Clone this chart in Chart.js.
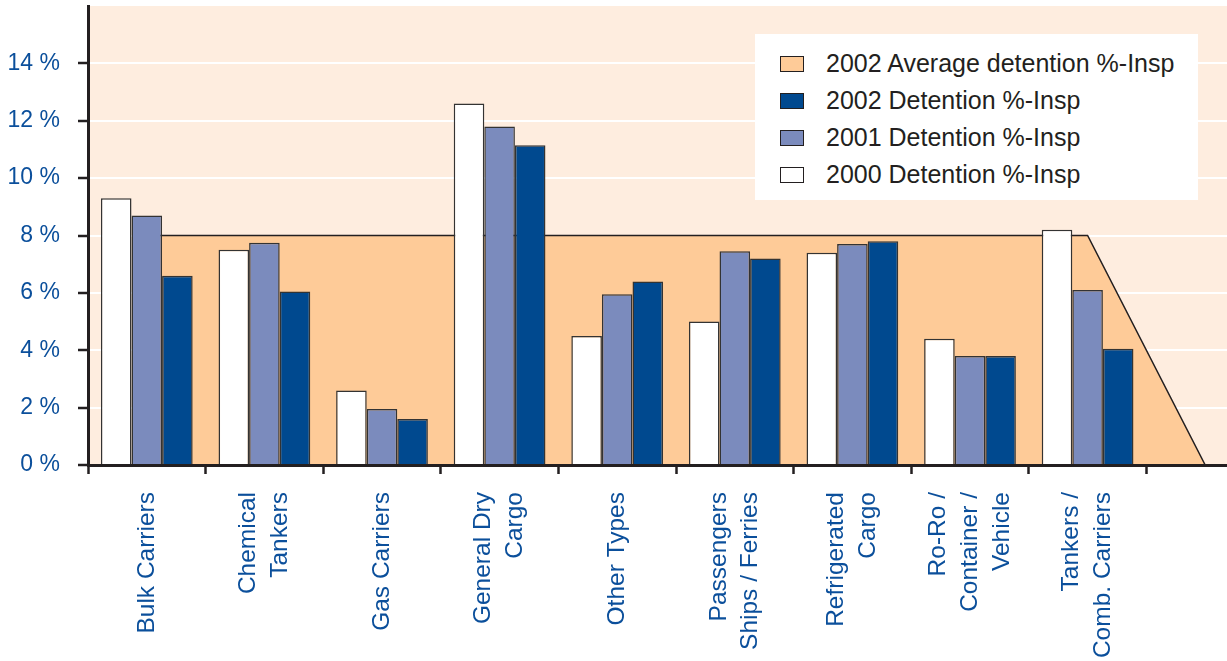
<!DOCTYPE html>
<html>
<head>
<meta charset="utf-8">
<script src="https://cdn.jsdelivr.net/npm/chart.js@4/dist/chart.umd.min.js"></script>
<style>
  html, body { margin: 0; padding: 0; background: #fff; overflow: hidden; }
  #wrap { position: relative; width: 1270px; height: 661px; }
  #legend {
    position: absolute; left: 755px; top: 34px; width: 443px; height: 166px;
    background: #fff; font-family: "Liberation Sans", Arial, sans-serif;
    font-size: 25px; color: #231f20;
  }
  #legend .row { position: absolute; left: 25px; height: 37px; display: flex; align-items: center; }
  #legend .sw { width: 22px; height: 14px; border: 1px solid #231f20; margin-right: 22px; }
</style>
</head>
<body>
<div id="wrap">
  <canvas id="chart" width="1270" height="661"></canvas>
  <div id="legend"></div>
</div>
<script>
// DATA

const categories = [
  "Bulk Carriers",
  ["Chemical", "Tankers"],
  "Gas Carriers",
  ["General Dry", "Cargo"],
  "Other Types",
  ["Passengers", "Ships / Ferries"],
  ["Refrigerated", "Cargo"],
  ["Ro-Ro /", "Container /", "Vehicle"],
  ["Tankers /", "Comb. Carriers"],
  ""
];

const det2000 = [9.3, 7.5, 2.6, 12.6, 4.5, 5.0, 7.4, 4.4, 8.2, null];
const det2001 = [8.7, 7.75, 1.95, 11.8, 5.95, 7.45, 7.7, 3.8, 6.1, null];
const det2002 = [6.6, 6.05, 1.6, 11.15, 6.4, 7.2, 7.8, 3.8, 4.05, null];
const avg2002 = [8, 8, 8, 8, 8, 8, 8, 8, 8, 0];

const yTicks = [0, 2, 4, 6, 8, 10, 12, 14];

// COLOURS

const plotBg = "#feeddf";
const areaColor = "#fecb98";
const ink = "#231f20";
const blueText = "#0b4f9b";
const fontFamily = "'Liberation Sans', Arial, sans-serif";
const xFontSize = 24.5;
const xLineHeight = 1.3;

const plotBackground = {
  id: "plotBackground",
  beforeDraw(chart) {
    const { ctx, chartArea } = chart;
    ctx.save();
    ctx.fillStyle = plotBg;
    ctx.fillRect(chartArea.left, chartArea.top, chartArea.right - chartArea.left, chartArea.bottom - chartArea.top);
    ctx.restore();
  }
};

// multi-line rotated labels: chart.js puts the first line on the tick, centre the block instead
const centerLabels = {
  id: "centerLabels",
  beforeDraw(chart) {
    const lh = xFontSize * xLineHeight;
    chart.scales.x.getLabelItems().forEach(item => {
      if (item._centred) return;
      const n = Array.isArray(item.label) ? item.label.length : 1;
      item.options.translation[0] -= (n - 1) * lh / 2;
      item._centred = true;
    });
  }
};

const barStyle = {
  type: "bar",
  borderColor: "#333333",
  borderWidth: 1.5,
  barPercentage: 1,
  categoryPercentage: 0.78,
  order: 1
};

const datasets = [
  { ...barStyle, label: "2000 Detention %-Insp", data: det2000, backgroundColor: "#ffffff" },
  { ...barStyle, label: "2001 Detention %-Insp", data: det2001, backgroundColor: "#7b8bbd" },
  { ...barStyle, label: "2002 Detention %-Insp", data: det2002, backgroundColor: "#00498f" },
  {
    type: "line",
    label: "2002 Average detention %-Insp",
    data: avg2002,
    fill: "origin",
    backgroundColor: areaColor,
    borderColor: ink,
    borderWidth: 1.5,
    pointRadius: 0,
    tension: 0,
    order: 10
  }
];

const ctx = document.querySelector("#chart").getContext("2d");

const chart = new Chart(ctx, {
  data: { labels: categories, datasets: datasets },
  options: {
    responsive: false,
    animation: false,
    devicePixelRatio: 1,
    layout: { padding: { top: 6, right: 6, left: 0, bottom: 0 } },
    plugins: {
      legend: { display: false },
      tooltip: { enabled: false }
    },
    scales: {
      x: {
        afterFit(scale) {
          scale.height = 196;
          scale.paddingLeft = 0;
          scale.paddingRight = 0;
        },
        grid: { drawOnChartArea: false, drawTicks: true, tickLength: 9, tickColor: ink, tickWidth: 2.5, offset: true },
        border: { color: ink, width: 3, z: 1 },
        ticks: {
          autoSkip: false,
          minRotation: 90,
          maxRotation: 90,
          padding: 18,
          color: blueText,
          font: { family: fontFamily, size: xFontSize, lineHeight: xLineHeight }
        }
      },
      y: {
        min: 0,
        max: 16,
        afterFit(scale) {
          scale.width = 88;
          scale.paddingTop = 0;
          scale.paddingBottom = 0;
        },
        afterBuildTicks(scale) { scale.ticks = yTicks.map(v => ({ value: v })); },
        grid: { color: "#ffffff", lineWidth: 2, tickLength: 10, tickColor: ink, tickWidth: 2.5 },
        border: { color: ink, width: 3 },
        ticks: {
          padding: 18,
          color: blueText,
          font: { family: fontFamily, size: 23 },
          callback: v => v + " %"
        }
      }
    }
  },
  plugins: [plotBackground, centerLabels]
});

// LEGEND (reverse order, as in the original)
const legendBox = document.querySelector("#legend");
datasets.slice().reverse().forEach((ds, i) => {
  const row = document.createElement("div");
  row.className = "row";
  row.style.top = (11 + i * 37) + "px";
  row.innerHTML = '<span class="sw" style="background:' + ds.backgroundColor + '"></span>' + ds.label;
  legendBox.appendChild(row);
});
</script>
</body>
</html>
